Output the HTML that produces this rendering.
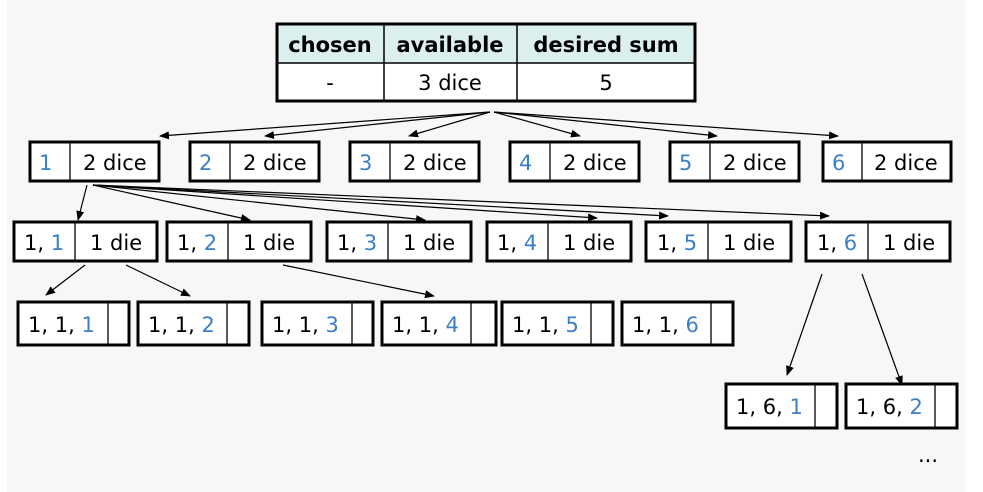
<!DOCTYPE html>
<html><head><meta charset="utf-8"><style>
html,body{margin:0;padding:0;background:#fff;}
svg{display:block;}
text{font-family:"DejaVu Sans","Liberation Sans",sans-serif;font-size:21px;fill:#000;}
.b{fill:#3b7fc4;}
.h{font-weight:bold;}
</style></head><body>
<svg width="983" height="492" viewBox="0 0 983 492" xmlns="http://www.w3.org/2000/svg">
<defs><marker id="a" markerWidth="10" markerHeight="8" refX="9" refY="4" orient="auto" markerUnits="userSpaceOnUse"><path d="M0,0 L10,4 L0,8 z" fill="#000"/></marker></defs>
<rect x="7" y="0" width="958" height="492" fill="#f7f7f7"/>
<!-- table -->
<rect x="277" y="24" width="418" height="39" fill="#dcefef"/>
<rect x="277" y="63" width="418" height="38" fill="#fff"/>
<rect x="277" y="24" width="418" height="77" fill="none" stroke="#000" stroke-width="3"/>
<line x1="277" y1="63" x2="695" y2="63" stroke="#000" stroke-width="1.5"/>
<line x1="384" y1="24" x2="384" y2="101" stroke="#000" stroke-width="1.5"/>
<line x1="517" y1="24" x2="517" y2="101" stroke="#000" stroke-width="1.5"/>
<text class="h" x="330" y="52" text-anchor="middle">chosen</text>
<text class="h" x="450" y="52" text-anchor="middle">available</text>
<text class="h" x="606" y="52" text-anchor="middle">desired sum</text>
<text x="330" y="90" text-anchor="middle">-</text>
<text x="450" y="90" text-anchor="middle">3 dice</text>
<text x="606" y="90" text-anchor="middle">5</text>
<g stroke="#000" stroke-width="1.2" fill="none" marker-end="url(#a)">
<line x1="490" y1="112" x2="160" y2="136"/>
<line x1="490" y1="112" x2="265" y2="136"/>
<line x1="490" y1="112" x2="409" y2="136"/>
<line x1="494" y1="112" x2="580" y2="136"/>
<line x1="494" y1="112" x2="717" y2="136"/>
<line x1="494" y1="112" x2="838" y2="136"/>
<line x1="87" y1="185" x2="78" y2="220"/>
<line x1="93" y1="185" x2="250" y2="220"/>
<line x1="93" y1="185" x2="425" y2="220"/>
<line x1="93" y1="185" x2="597" y2="218"/>
<line x1="93" y1="185" x2="668" y2="216"/>
<line x1="93" y1="185" x2="829" y2="216"/>
<line x1="85" y1="265" x2="46" y2="295"/>
<line x1="126" y1="265" x2="190" y2="296"/>
<line x1="283" y1="265" x2="434" y2="296"/>
<line x1="822" y1="274" x2="787" y2="375"/>
<line x1="862" y1="274" x2="902" y2="385"/>
</g>
<g stroke="#000" fill="#fff">
<!-- row1 -->
<rect x="30" y="142" width="129" height="39" stroke-width="3"/>
<rect x="190" y="142" width="129" height="39" stroke-width="3"/>
<rect x="350" y="142" width="129" height="39" stroke-width="3"/>
<rect x="510" y="142" width="129" height="39" stroke-width="3"/>
<rect x="670" y="142" width="129" height="39" stroke-width="3"/>
<rect x="823" y="142" width="128" height="39" stroke-width="3"/>
<!-- row2 -->
<rect x="14" y="222" width="143" height="39" stroke-width="3"/>
<rect x="167" y="222" width="144" height="39" stroke-width="3"/>
<rect x="327" y="222" width="144" height="39" stroke-width="3"/>
<rect x="487" y="222" width="144" height="39" stroke-width="3"/>
<rect x="646" y="222" width="145" height="39" stroke-width="3"/>
<rect x="806" y="222" width="144" height="39" stroke-width="3"/>
<!-- row3 -->
<rect x="18" y="302" width="111" height="43" stroke-width="3"/>
<rect x="138" y="302" width="111" height="43" stroke-width="3"/>
<rect x="262" y="302" width="111" height="43" stroke-width="3"/>
<rect x="382" y="302" width="114" height="43" stroke-width="3"/>
<rect x="502" y="302" width="111" height="43" stroke-width="3"/>
<rect x="622" y="302" width="111" height="43" stroke-width="3"/>
<!-- row4 -->
<rect x="726" y="384" width="111" height="44" stroke-width="3"/>
<rect x="846" y="384" width="111" height="44" stroke-width="3"/>
</g>
<g stroke="#000" stroke-width="1.3">
<line x1="70" y1="142" x2="70" y2="181"/><line x1="230" y1="142" x2="230" y2="181"/>
<line x1="390" y1="142" x2="390" y2="181"/><line x1="550" y1="142" x2="550" y2="181"/>
<line x1="710" y1="142" x2="710" y2="181"/><line x1="862" y1="142" x2="862" y2="181"/>
<line x1="75" y1="222" x2="75" y2="261"/><line x1="228" y1="222" x2="228" y2="261"/>
<line x1="388" y1="222" x2="388" y2="261"/><line x1="548" y1="222" x2="548" y2="261"/>
<line x1="708" y1="222" x2="708" y2="261"/><line x1="868" y1="222" x2="868" y2="261"/>
<line x1="108" y1="302" x2="108" y2="345"/><line x1="227" y1="302" x2="227" y2="345"/>
<line x1="352" y1="302" x2="352" y2="345"/><line x1="471" y1="302" x2="471" y2="345"/>
<line x1="591" y1="302" x2="591" y2="345"/><line x1="711" y1="302" x2="711" y2="345"/>
<line x1="815" y1="384" x2="815" y2="428"/><line x1="935" y1="384" x2="935" y2="428"/>
</g>
<!-- row1 text -->
<text class="b" x="39" y="170">1</text><text x="83" y="170">2 dice</text>
<text class="b" x="199" y="170">2</text><text x="243" y="170">2 dice</text>
<text class="b" x="359" y="170">3</text><text x="403" y="170">2 dice</text>
<text class="b" x="519" y="170">4</text><text x="563" y="170">2 dice</text>
<text class="b" x="679" y="170">5</text><text x="723" y="170">2 dice</text>
<text class="b" x="832" y="170">6</text><text x="874" y="170">2 dice</text>
<!-- row2 text -->
<text x="24" y="250">1, <tspan class="b">1</tspan></text><text x="90" y="250">1 die</text>
<text x="177" y="250">1, <tspan class="b">2</tspan></text><text x="243" y="250">1 die</text>
<text x="337" y="250">1, <tspan class="b">3</tspan></text><text x="403" y="250">1 die</text>
<text x="497" y="250">1, <tspan class="b">4</tspan></text><text x="563" y="250">1 die</text>
<text x="657" y="250">1, <tspan class="b">5</tspan></text><text x="723" y="250">1 die</text>
<text x="817" y="250">1, <tspan class="b">6</tspan></text><text x="883" y="250">1 die</text>
<!-- row3 text -->
<text x="28" y="332">1, 1, <tspan class="b">1</tspan></text>
<text x="148" y="332">1, 1, <tspan class="b">2</tspan></text>
<text x="272" y="332">1, 1, <tspan class="b">3</tspan></text>
<text x="392" y="332">1, 1, <tspan class="b">4</tspan></text>
<text x="512" y="332">1, 1, <tspan class="b">5</tspan></text>
<text x="632" y="332">1, 1, <tspan class="b">6</tspan></text>
<!-- row4 -->
<text x="736" y="414">1, 6, <tspan class="b">1</tspan></text>
<text x="856" y="414">1, 6, <tspan class="b">2</tspan></text>
<text x="918" y="462">...</text>
</svg>
</body></html>
